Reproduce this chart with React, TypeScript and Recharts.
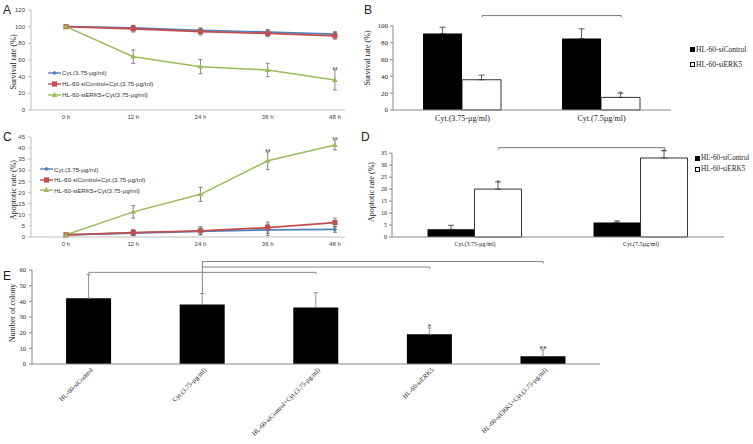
import React from 'react';
import { LineChart, Line, BarChart, Bar, XAxis, YAxis, ErrorBar, ReferenceLine } from 'recharts';

const SANS = '"Liberation Sans", Arial, sans-serif';
const SERIF = '"Liberation Serif", "Times New Roman", serif';
const BLUE = '#4f81bd';
const RED = '#c0504d';
const GREEN = '#9bbb59';

// time course (A, C)
const hours = [0, 12, 24, 36, 48];
const hourLabels = ['0 h', '12 h', '24 h', '36 h', '48 h'];
const lineNames = ['Cyt.(3.75-µg/ml)', 'HL-60-siControl+Cyt.(3.75-µg/ml)', 'HL-60-siERK5+Cyt(3.75-µg/ml)'];

const survTicks = [0, 20, 40, 60, 80, 100, 120];
const survCyt = [100, 98.5, 95.5, 93.5, 91];
const survCytErr = [0.5, 3, 3, 3, 3];
const survCtrl = [100, 97.5, 94, 92, 89];
const survCtrlErr = [0.5, 4, 4, 4, 4];
const survErk = [100, 64, 52, 48, 36];
const survErkErr = [0.5, 8, 8.5, 8, 12];
const survStars = ['', '', '', '', '**'];

const apoTicks = [0, 5, 10, 15, 20, 25, 30, 35, 40, 45];
const apoCyt = [1, 1.8, 2.5, 3.2, 3.4];
const apoCytErr = [0.3, 1.2, 1.5, 2.5, 1.3];
const apoCtrl = [1, 2, 2.8, 4.2, 6.5];
const apoCtrlErr = [0.3, 1.3, 1.8, 2.5, 2];
const apoErk = [1, 11.3, 19.2, 34.3, 41.4];
const apoErkErr = [0.3, 2.8, 3.2, 4, 2.2];
const apoStars = ['', '', '', '**', '**'];

// dose bars (B, D)
const doses = ['Cyt.(3.75-µg/ml)', 'Cyt.(7.5µg/ml)'];
const barNames = ['HL-60-siControl', 'HL-60-siERK5'];
const bTicks = [0, 10, 20, 30, 40, 50, 60, 70, 80, 90, 100];
const bCtrl = [91, 85];
const bCtrlErr = [7.5, 11.5];
const bErk = [36, 15];
const bErkErr = [5.5, 5];
const bStars = ['', '*'];

const dTicks = [0, 5, 10, 15, 20, 25, 30, 35];
const dCtrl = [3.2, 6.1];
const dCtrlErr = [1.7, 0.6];
const dErk = [20, 33];
const dErkErr = [3, 3];
const dStars = ['*', '*'];

// colony (E)
const groups = [
  'HL-60-siControl',
  'Cyt.(3.75-µg/ml)',
  'HL-60-siControl+Cyt.(3.75-µg/ml)',
  'HL-60-siERK5',
  'HL-60-siERK5+Cyt.(3.75-µg/ml)',
];
const eTicks = [0, 10, 20, 30, 40, 50, 60];
const colony = [42, 38, 36, 19, 5];
const colonyErr = [15, 7, 9.5, 4, 4];
const colonyStars = ['', '', '', '*', '**'];
const eBrackets = [
  { from: 1, to: 4, level: 65.4 },
  { from: 1, to: 3, level: 61.9 },
  { from: 0, to: 2, level: 58.5 },
];

const timeRows = (a: number[], ae: number[], b: number[], be: number[], c: number[], ce: number[], stars: string[]) =>
  hours.map((h, i) => ({
    h,
    cyt: a[i], cytErr: ae[i],
    ctrl: b[i], ctrlErr: be[i],
    erk: c[i], erkErr: ce[i],
    top: c[i] + ce[i],
    star: stars[i],
  }));

const survRows = timeRows(survCyt, survCytErr, survCtrl, survCtrlErr, survErk, survErkErr, survStars);
const apoRows = timeRows(apoCyt, apoCytErr, apoCtrl, apoCtrlErr, apoErk, apoErkErr, apoStars);

const doseRows = (ctrl: number[], ctrlErr: number[], erk: number[], erkErr: number[]) =>
  doses.map((dose, i) => ({ dose, ctrl: ctrl[i], ctrlErr: [0, ctrlErr[i]], erk: erk[i], erkErr: [0, erkErr[i]] }));

const colonyRows = groups.map((g, i) => ({ g, n: colony[i], err: [0, colonyErr[i]] }));

const diamond = (cx: number, cy: number, key?: any) => (
  <path key={key} d={`M${cx},${cy - 2.3}l2.3,2.3l-2.3,2.3l-2.3,-2.3z`} fill={BLUE} />
);
const square = (cx: number, cy: number, key?: any) => (
  <rect key={key} x={cx - 2.6} y={cy - 2.6} width={5.2} height={5.2} fill={RED} />
);
const triangle = (cx: number, cy: number, key?: any) => (
  <path key={key} d={`M${cx},${cy - 2.9}l2.9,4.8h-5.8z`} fill={GREEN} />
);
const markers = [diamond, square, triangle];
const lineColors = [BLUE, RED, GREEN];

const starOnLine = (rows: any[]) => (p: any) => {
  const s = rows[p.index]?.star;
  if (!s) return null;
  return (
    <text key={p.index} x={p.x} y={p.y + 2} textAnchor="middle" fontSize={7} fontFamily={SANS} fill="#444">
      {s}
    </text>
  );
};

const starOnBar = (errs: number[], stars: string[], size: number) => (p: any) => {
  const s = stars[p.index];
  if (!s) return null;
  const top = p.y - (p.height / p.value) * errs[p.index];
  return (
    <text key={p.index} x={p.x + p.width / 2} y={top + 2} textAnchor="middle" fontSize={size} fontFamily={SERIF} fill="#333">
      {s}
    </text>
  );
};

const Letter = ({ x, y, t }: { x: number; y: number; t: string }) => (
  <div style={{ position: 'absolute', left: x, top: y, fontFamily: SANS, fontSize: 12, color: '#222', lineHeight: '13px' }}>{t}</div>
);

const VLabel = ({ x, y, t, size }: { x: number; y: number; t: string; size: number }) => (
  <div
    style={{
      position: 'absolute', left: x, top: y, transform: 'translate(-50%, -50%) rotate(-90deg)',
      whiteSpace: 'nowrap', fontFamily: SERIF, fontSize: size, color: '#222',
    }}
  >
    {t}
  </div>
);

const LineLegend = ({ left, top, row }: { left: number; top: number; row: number }) => (
  <div style={{ position: 'absolute', left, top, fontFamily: SANS, fontSize: 6.2, color: '#333' }}>
    {lineNames.map((name, i) => (
      <div key={name} style={{ display: 'flex', alignItems: 'center', height: row }}>
        <svg width={13} height={8} style={{ marginRight: 1 }}>
          <line x1={0} y1={4} x2={13} y2={4} stroke={lineColors[i]} strokeWidth={1.4} />
          {markers[i](6.5, 4)}
        </svg>
        <span>{name}</span>
      </div>
    ))}
  </div>
);

const BarLegend = ({ left, top, row, size }: { left: number; top: number; row: number; size: number }) => (
  <div style={{ position: 'absolute', left, top, fontFamily: SERIF, fontSize: size, color: '#222' }}>
    {barNames.map((name, i) => (
      <div key={name} style={{ display: 'flex', alignItems: 'center', height: row }}>
        <span
          style={{
            display: 'inline-block', width: 5, height: 5, marginRight: 1, boxSizing: 'border-box',
            background: i === 0 ? '#000' : '#fff', border: '0.8px solid #000',
          }}
        />
        <span>{name}</span>
      </div>
    ))}
  </div>
);

function TimeChart({ rows, top, height, mt, yMax, yTicks }: any) {
  const tick = { fontSize: 6, fill: '#404040', fontFamily: SANS };
  return (
    <div style={{ position: 'absolute', left: 0, top }}>
      <LineChart width={360} height={height} data={rows} margin={{ top: mt, right: 15, bottom: 0, left: 0 }}>
        <XAxis
          type="number" dataKey="h" domain={[-6.25, 49.8]} ticks={hours}
          tickFormatter={(v: number) => hourLabels[hours.indexOf(v)]}
          tickLine={false} tickSize={4} tickMargin={1} height={15} stroke="#bfbfbf" tick={tick}
        />
        <YAxis domain={[0, yMax]} ticks={yTicks} width={31} tickSize={3} tickMargin={3} stroke="#bfbfbf" tick={tick} />
        <Line dataKey="cyt" stroke={BLUE} strokeWidth={1.8} dot={(p: any) => diamond(p.cx, p.cy, p.index)} isAnimationActive={false}>
          <ErrorBar dataKey="cytErr" width={2} strokeWidth={0.7} stroke="#555" />
        </Line>
        <Line dataKey="ctrl" stroke={RED} strokeWidth={1.8} dot={(p: any) => square(p.cx, p.cy, p.index)} isAnimationActive={false}>
          <ErrorBar dataKey="ctrlErr" width={2} strokeWidth={0.7} stroke="#555" />
        </Line>
        <Line dataKey="erk" stroke={GREEN} strokeWidth={1.5} dot={(p: any) => triangle(p.cx, p.cy, p.index)} isAnimationActive={false}>
          <ErrorBar dataKey="erkErr" width={2} strokeWidth={0.7} stroke="#555" />
        </Line>
        <Line dataKey="top" stroke="none" dot={false} activeDot={false} isAnimationActive={false} label={starOnLine(rows)} />
      </LineChart>
    </div>
  );
}

function DoseChart({ left, top, width, height, mt, xh, rows, yMax, yTicks, axisTop, gap, level, drop, xFont, yFont, errs, stars }: any) {
  // centre of the white bar in category i, as a fraction of the plot width
  const whiteCenter = (i: number) => (i + 0.5 + (0.5 - gap) / 2) / doses.length;
  return (
    <div style={{ position: 'absolute', left, top }}>
      <BarChart
        width={width} height={height} data={rows} margin={{ top: mt, right: 0, bottom: 0, left: 0 }}
        barCategoryGap={`${gap * 100}%`} barGap={0}
      >
        <XAxis dataKey="dose" height={xh} tickLine={false} tickSize={0} tickMargin={5} stroke="#888"
          tick={{ fontSize: xFont, fill: '#222', fontFamily: SERIF }} />
        <XAxis xAxisId="pos" type="number" domain={[0, 1]} allowDataOverflow hide />
        <YAxis domain={[0, yMax]} ticks={yTicks} width={31} axisLine={false} tickSize={3} tickMargin={2} stroke="#888"
          tick={{ fontSize: yFont, fill: '#222', fontFamily: SERIF }} />
        <ReferenceLine segment={[{ x: doses[0], y: 0 }, { x: doses[0], y: axisTop }]} position="start" stroke="#888" />
        <Bar dataKey="ctrl" fill="#000" isAnimationActive={false}>
          <ErrorBar dataKey="ctrlErr" width={3} strokeWidth={0.8} stroke="#333" />
        </Bar>
        <Bar dataKey="erk" fill="#fff" stroke="#000" strokeWidth={0.8} isAnimationActive={false} label={starOnBar(errs, stars, 7)}>
          <ErrorBar dataKey="erkErr" width={3} strokeWidth={0.8} stroke="#333" />
        </Bar>
        <ReferenceLine xAxisId="pos" stroke="#777"
          segment={[{ x: whiteCenter(0), y: level }, { x: whiteCenter(1), y: level }]} />
        <ReferenceLine xAxisId="pos" stroke="#777"
          segment={[{ x: whiteCenter(0), y: level }, { x: whiteCenter(0), y: level - drop }]} />
        <ReferenceLine xAxisId="pos" stroke="#777"
          segment={[{ x: whiteCenter(1), y: level }, { x: whiteCenter(1), y: level - drop }]} />
      </BarChart>
    </div>
  );
}

const SlantTick = ({ x, y, payload }: any) => (
  <g transform={`translate(${x + 3},${y}) rotate(-45)`}>
    <text x={0} y={0} textAnchor="end" dy="0.3em" fontSize={6.6} fontFamily={SERIF} style={{ fill: '#1a1a1a' }}>
      {payload.value}
    </text>
  </g>
);

function ColonyChart() {
  return (
    <div style={{ position: 'absolute', left: 0, top: 250 }}>
      <BarChart width={620} height={194} data={colonyRows} margin={{ top: 10.6, right: 20, bottom: 0, left: 0 }} barCategoryGap="30%">
        <XAxis dataKey="g" height={80} tickLine={false} tickSize={0} tickMargin={5} stroke="#888" interval={0} tick={<SlantTick />} />
        <YAxis domain={[0, 66]} ticks={eTicks} width={32} axisLine={false} tickSize={3} tickMargin={3} stroke="#888"
          tick={{ fontSize: 6.5, fill: '#222', fontFamily: SERIF }} />
        <ReferenceLine segment={[{ x: groups[0], y: 0 }, { x: groups[0], y: 60 }]} position="start" stroke="#888" />
        <Bar dataKey="n" fill="#000" isAnimationActive={false} label={starOnBar(colonyErr, colonyStars, 7.5)}>
          <ErrorBar dataKey="err" width={2} strokeWidth={0.8} stroke="#777" />
        </Bar>
        {eBrackets.map((b, k) => [
          <ReferenceLine key={`h${k}`} stroke="#888"
            segment={[{ x: groups[b.from], y: b.level }, { x: groups[b.to], y: b.level }]} />,
          <ReferenceLine key={`l${k}`} stroke="#888"
            segment={[{ x: groups[b.from], y: b.level }, { x: groups[b.from], y: b.level - 1.2 }]} />,
          <ReferenceLine key={`r${k}`} stroke="#888"
            segment={[{ x: groups[b.to], y: b.level }, { x: groups[b.to], y: b.level - 1.2 }]} />,
        ])}
        <ReferenceLine stroke="#888"
          segment={[{ x: groups[1], y: eBrackets[0].level }, { x: groups[1], y: colony[1] + colonyErr[1] }]} />
      </BarChart>
    </div>
  );
}

export default function App() {
  return (
    <div style={{ position: 'absolute', left: 0, top: 0, width: 753, height: 444, background: '#fff', overflow: 'hidden' }}>
      <TimeChart rows={survRows} top={0} height={125} mt={10} yMax={120} yTicks={survTicks} />
      <TimeChart rows={apoRows} top={126} height={126} mt={11} yMax={45} yTicks={apoTicks} />
      <DoseChart
        left={362} top={0} width={309} height={130} mt={15} xh={20}
        rows={doseRows(bCtrl, bCtrlErr, bErk, bErkErr)} yMax={113} yTicks={bTicks} axisTop={100}
        gap={0.216} level={112.3} drop={2} xFont={8} yFont={7} errs={bErkErr} stars={bStars}
      />
      <DoseChart
        left={361} top={130} width={363} height={123} mt={16} xh={16}
        rows={doseRows(dCtrl, dCtrlErr, dErk, dErkErr)} yMax={38} yTicks={dTicks} axisTop={35}
        gap={0.214} level={37.3} drop={0.8} xFont={6} yFont={6} errs={dErkErr} stars={dStars}
      />
      <ColonyChart />

      <LineLegend left={48} top={67} row={11.2} />
      <LineLegend left={40} top={164} row={10.5} />
      <BarLegend left={690} top={41.5} row={15} size={7.5} />
      <BarLegend left={695} top={153} row={10.7} size={7.2} />

      <Letter x={3} y={4} t="A" />
      <Letter x={364} y={4} t="B" />
      <Letter x={3} y={131} t="C" />
      <Letter x={361} y={131} t="D" />
      <Letter x={3} y={270} t="E" />

      <VLabel x={13} y={62} t="Survival rate (%)" size={8} />
      <VLabel x={367} y={58} t="Survival rate (%)" size={8} />
      <VLabel x={13} y={190} t="Apoptotic rate (%)" size={8} />
      <VLabel x={371} y={192} t="Apoptotic rate (%)" size={8} />
      <VLabel x={12} y={313} t="Number of colony" size={8} />
    </div>
  );
}
